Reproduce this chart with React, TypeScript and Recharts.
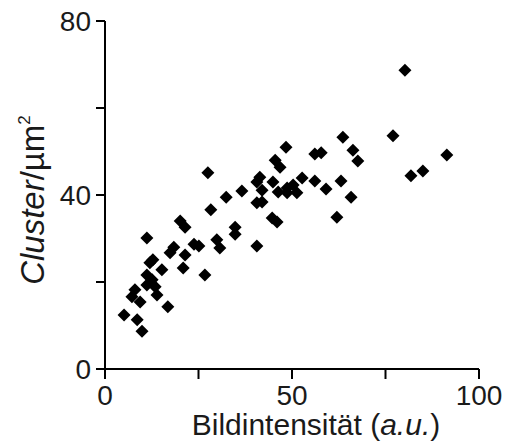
import { ScatterChart, Scatter, XAxis, YAxis, Label } from "recharts";

// Bildintensität (a.u.) vs. Cluster/µm²
const intensity = [
  5.1, 8.6, 9.9, 7.2, 9.4, 8.0, 11.2, 12.8, 12.0, 15.2, 11.2, 12.6, 11.2, 13.4, 13.9, 16.8,
  17.4, 18.4, 21.4, 20.9, 20.1, 21.4, 23.8, 25.1, 26.7, 27.5, 28.3, 32.4, 29.9, 30.7, 34.8, 34.8,
  36.6, 40.6, 41.4, 40.6, 42.0, 40.6, 42.0, 44.9, 45.5, 46.8, 48.4, 46.3, 48.7, 50.3, 52.7, 51.3,
  48.7, 44.7, 46.0, 56.1, 57.8, 56.1, 59.1, 63.1, 62.0, 65.8, 63.6, 66.3, 67.6, 77.0, 80.2, 81.8,
  85.0, 91.4,
];
const clusters = [
  12.4, 11.3, 8.7, 16.6, 15.4, 18.2, 30.1, 25.1, 24.4, 22.8, 21.6, 20.5, 19.3, 18.9, 17.0, 14.3,
  26.7, 28.0, 26.2, 23.2, 34.0, 32.6, 28.7, 28.3, 21.6, 45.1, 36.6, 39.5, 29.7, 27.8, 32.6, 31.0,
  40.9, 28.3, 44.1, 43.0, 41.1, 38.2, 38.4, 43.0, 48.0, 46.4, 51.0, 40.7, 41.6, 42.3, 43.9, 40.5,
  40.5, 34.7, 33.8, 49.4, 49.7, 43.2, 41.4, 43.2, 34.9, 39.5, 53.3, 50.3, 47.8, 53.6, 68.7, 44.4,
  45.5, 49.2,
];
const xTicks = [0, 25, 50, 75, 100];
const yTicks = [0, 20, 40, 60, 80];
const xLabelled = [0, 50, 100];
const yLabelled = [0, 40, 80];

const points = intensity.map((x, i) => ({ x, y: clusters[i] }));

const font = "'Liberation Sans', Arial, Helvetica, sans-serif";
const axisStyle = { stroke: "#000", strokeWidth: 2 };

function Diamond(props: any) {
  const { cx, cy } = props;
  const r = 6.5;
  return (
    <polygon
      points={`${cx},${cy - r} ${cx + r},${cy} ${cx},${cy + r} ${cx - r},${cy}`}
      fill="#000"
    />
  );
}

function XTitle(props: any) {
  const vb = props.viewBox;
  return (
    <text
      x={vb.x + vb.width / 2 + 24}
      y={vb.y + 66}
      textAnchor="middle"
      fontFamily={font}
      fontSize={30}
      fill="#1a1a1a"
    >
      Bildintensität (<tspan fontStyle="italic">a.u.</tspan>)
    </text>
  );
}

function YTitle(props: any) {
  const vb = props.viewBox;
  const x = 44;
  const y = vb.y + vb.height / 2 + 5;
  return (
    <text
      x={x}
      y={y}
      transform={`rotate(-90, ${x}, ${y})`}
      textAnchor="middle"
      fontFamily={font}
      fontSize={33}
      fill="#1a1a1a"
    >
      <tspan fontStyle="italic">Cluster</tspan>/µm
      <tspan fontSize={17} dy={-14}>2</tspan>
    </text>
  );
}

export default function App() {
  return (
    <div style={{ position: "absolute", left: 0, top: 0, background: "#fff" }}>
      <ScatterChart width={508} height={443} margin={{ top: 21, right: 29, bottom: 0, left: 0 }}>
        <XAxis
          type="number"
          dataKey="x"
          domain={[0, 100]}
          ticks={xTicks}
          tickFormatter={(v) => (xLabelled.includes(v) ? String(v) : "")}
          axisLine={axisStyle}
          tickLine={axisStyle}
          tickSize={10}
          tickMargin={6}
          height={74}
          tick={{ fill: "#1a1a1a", fontSize: 28, fontFamily: font }}
          interval={0}
        >
          <Label content={XTitle} />
        </XAxis>
        <YAxis
          type="number"
          dataKey="y"
          domain={[0, 80]}
          ticks={yTicks}
          tickFormatter={(v) => (yLabelled.includes(v) ? String(v) : "")}
          axisLine={axisStyle}
          tickLine={axisStyle}
          tickSize={9}
          tickMargin={5}
          width={105}
          tick={{ fill: "#1a1a1a", fontSize: 28, fontFamily: font }}
          interval={0}
        >
          <Label content={YTitle} />
        </YAxis>
        <Scatter data={points} shape={Diamond} isAnimationActive={false} />
      </ScatterChart>
    </div>
  );
}
